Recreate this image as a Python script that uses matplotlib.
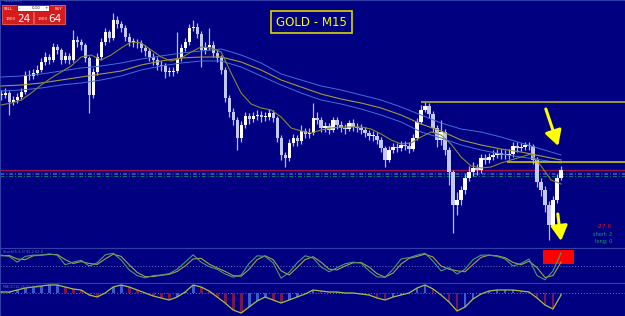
import matplotlib
matplotlib.use("Agg")
import matplotlib.pyplot as plt
from matplotlib.patches import Rectangle
import numpy as np

# ---- price candles (M15), one every bar ----
closes = np.array([
    1310.5, 1310.7, 1309.8, 1310.0, 1310.3, 1310.8, 1312.5, 1312.4, 1312.7, 1313.0,
    1313.8, 1314.3, 1314.0, 1315.3, 1315.0, 1314.0, 1314.4, 1314.0, 1316.0, 1315.8,
    1315.5, 1314.2, 1310.5, 1312.8, 1314.3, 1315.8, 1316.8, 1316.2, 1318.0, 1317.6,
    1317.2, 1316.3, 1315.8, 1315.8, 1315.7, 1315.2, 1314.9, 1314.3, 1314.0, 1313.5,
    1313.4, 1312.8, 1312.8, 1312.9, 1314.2, 1315.2, 1315.8, 1317.2, 1317.3, 1316.6,
    1315.0, 1315.3, 1315.5, 1314.7, 1314.2, 1313.0, 1310.2, 1308.8, 1308.0, 1306.2,
    1307.5, 1308.4, 1308.1, 1308.4, 1308.5, 1308.3, 1308.3, 1308.7, 1308.2, 1306.2,
    1304.5, 1304.2, 1305.7, 1306.2, 1305.9, 1306.9, 1306.6, 1306.7, 1308.2, 1308.0,
    1307.2, 1307.4, 1307.0, 1308.0, 1307.5, 1307.2, 1307.1, 1307.7, 1307.3, 1307.2,
    1307.0, 1306.7, 1306.4, 1306.4, 1306.0, 1305.2, 1304.0, 1305.0, 1305.3, 1305.2,
    1305.5, 1305.4, 1305.1, 1306.2, 1307.8, 1309.0, 1309.4, 1308.6, 1307.2, 1306.0,
    1306.8, 1305.0, 1302.8, 1299.5, 1300.0, 1301.0, 1302.2, 1302.8, 1303.2, 1303.0,
    1304.2, 1304.0, 1304.3, 1304.5, 1304.7, 1304.5, 1304.5, 1304.6, 1305.4, 1305.2,
    1305.3, 1305.5, 1305.4, 1304.0, 1301.8, 1301.0, 1299.5, 1297.5, 1300.0, 1302.2,
    1303.0])
highs = np.array([
    1311.0, 1311.2, 1310.9, 1310.4, 1310.7, 1311.2, 1312.9, 1313.0, 1313.1, 1313.5,
    1314.2, 1314.8, 1314.6, 1315.7, 1315.6, 1315.2, 1314.8, 1314.7, 1317.0, 1316.4,
    1316.1, 1315.7, 1314.4, 1313.2, 1314.7, 1316.2, 1317.2, 1317.0, 1318.7, 1318.4,
    1317.9, 1317.5, 1316.7, 1316.2, 1316.1, 1316.0, 1315.5, 1315.2, 1314.7, 1314.3,
    1313.9, 1313.7, 1313.3, 1313.3, 1316.8, 1315.6, 1316.2, 1317.6, 1318.0, 1317.7,
    1316.9, 1315.8, 1317.2, 1315.9, 1315.0, 1314.5, 1313.3, 1310.5, 1309.2, 1308.3,
    1307.9, 1308.8, 1308.7, 1308.8, 1309.0, 1308.9, 1308.8, 1309.1, 1309.0, 1308.4,
    1306.5, 1304.8, 1306.1, 1306.6, 1306.5, 1307.5, 1307.2, 1307.2, 1309.7, 1308.8,
    1308.3, 1307.8, 1307.7, 1308.3, 1308.3, 1307.9, 1307.6, 1308.0, 1308.1, 1307.7,
    1307.6, 1307.3, 1307.0, 1306.9, 1306.8, 1306.3, 1305.4, 1305.4, 1305.7, 1305.7,
    1305.9, 1305.9, 1305.8, 1306.6, 1308.2, 1309.5, 1309.8, 1309.7, 1308.9, 1307.5,
    1308.0, 1307.1, 1305.3, 1303.0, 1300.8, 1301.4, 1302.6, 1303.4, 1303.8, 1303.6,
    1304.6, 1304.6, 1304.7, 1305.0, 1305.1, 1305.1, 1305.0, 1305.1, 1305.8, 1305.8,
    1305.7, 1305.8, 1305.8, 1305.6, 1304.3, 1302.2, 1301.4, 1299.9, 1300.4, 1302.6,
    1303.4])
lows = np.array([
    1310.0, 1310.2, 1308.5, 1309.5, 1309.7, 1310.0, 1310.6, 1312.0, 1312.1, 1312.5,
    1312.8, 1313.5, 1313.6, 1313.8, 1314.6, 1313.6, 1313.7, 1313.6, 1313.8, 1315.3,
    1315.0, 1313.8, 1308.7, 1310.2, 1312.5, 1314.0, 1315.5, 1315.8, 1316.0, 1317.2,
    1316.8, 1315.9, 1315.4, 1315.3, 1315.2, 1314.8, 1314.4, 1313.9, 1313.5, 1313.0,
    1312.9, 1312.2, 1312.4, 1312.4, 1312.7, 1313.9, 1314.9, 1315.5, 1316.9, 1316.2,
    1313.3, 1314.6, 1315.0, 1314.3, 1313.8, 1312.6, 1309.8, 1308.3, 1307.5, 1305.0,
    1305.8, 1307.2, 1307.6, 1307.8, 1308.0, 1307.8, 1307.9, 1308.0, 1307.8, 1305.8,
    1304.0, 1303.3, 1303.9, 1305.4, 1305.4, 1305.6, 1306.2, 1306.2, 1306.5, 1307.6,
    1306.8, 1306.8, 1306.6, 1306.8, 1307.1, 1306.8, 1306.6, 1306.9, 1306.9, 1306.8,
    1306.6, 1306.3, 1306.0, 1305.9, 1305.6, 1304.8, 1303.3, 1303.8, 1304.7, 1304.8,
    1304.9, 1305.0, 1304.7, 1304.9, 1306.0, 1307.6, 1308.8, 1308.2, 1306.8, 1305.3,
    1305.5, 1304.5, 1301.5, 1296.7, 1298.5, 1299.5, 1300.6, 1301.9, 1302.4, 1302.5,
    1302.7, 1303.6, 1303.7, 1304.0, 1304.2, 1304.1, 1304.1, 1304.1, 1304.3, 1304.8,
    1304.9, 1305.0, 1305.0, 1303.6, 1301.3, 1300.4, 1298.8, 1296.0, 1297.2, 1299.7,
    1302.0])

# ---- moving average envelope, every 5 bars ----
band_upper = [1312.3, 1312.4, 1312.6, 1312.9, 1313.2, 1313.4, 1313.7, 1314.1, 1314.4, 1314.7,
              1314.9, 1315.1, 1314.5, 1313.7, 1312.6, 1312.0, 1311.4, 1311.0, 1310.5, 1310.0,
              1309.3, 1308.5, 1307.7, 1307.1, 1306.8, 1306.3, 1305.7, 1305.1, 1304.5]
band_mid = [1311.4, 1311.5, 1311.7, 1312.0, 1312.3, 1312.6, 1312.9, 1313.5, 1313.9, 1314.2,
            1314.3, 1314.3, 1313.8, 1313.0, 1312.0, 1311.3, 1310.6, 1310.1, 1309.7, 1309.2,
            1308.5, 1307.6, 1306.9, 1306.0, 1305.5, 1305.1, 1304.8, 1304.4, 1304.0]
band_lower = [1310.9, 1311.0, 1311.2, 1311.5, 1311.7, 1312.0, 1312.4, 1313.0, 1313.4, 1313.7,
              1313.9, 1313.9, 1313.3, 1312.4, 1311.5, 1310.7, 1310.0, 1309.6, 1309.1, 1308.5,
              1307.8, 1306.8, 1306.2, 1305.5, 1305.0, 1304.6, 1304.3, 1304.0, 1303.7]

# ---- fast moving average, every 2.5 bars ----
fast_ma = [1309.5, 1309.7, 1310.0, 1310.7, 1311.5, 1312.2, 1312.8, 1313.4, 1314.3, 1314.5,
           1314.0, 1314.5, 1315.2, 1315.8, 1315.7, 1315.0, 1314.3, 1313.9, 1314.2, 1314.8,
           1315.3, 1315.2, 1314.8, 1312.7, 1310.7, 1309.6, 1309.2, 1309.0, 1308.3, 1307.2,
           1306.9, 1306.7, 1307.0, 1307.2, 1307.3, 1307.3, 1307.3, 1307.1, 1306.6, 1306.0,
           1305.6, 1305.7, 1306.3, 1306.8, 1306.5, 1305.6, 1304.3, 1303.4, 1303.2, 1303.3,
           1303.7, 1304.0, 1304.3, 1304.6, 1303.4, 1302.0, 1301.6]

# ---- horizontal levels ----
resistance = 1309.8
resistance_from = 105
support = 1303.8
support_from = 126.5
pivot = 1303.05
dash_levels = [1302.75, 1302.6]
green_level = 1302.4

# ---- oscillators, every 2 bars ----
stoch_main = [84, 80, 62, 80, 84, 84, 88, 84, 54, 62, 68, 50, 60, 85, 90, 69, 38, 20, 13, 20,
              22, 26, 40, 62, 85, 62, 48, 40, 25, 15, 22, 58, 82, 80, 60, 12, 30, 60, 82, 75,
              47, 32, 45, 57, 62, 59, 35, 16, 15, 40, 72, 76, 84, 90, 65, 35, 45, 25, 40, 70,
              84, 84, 80, 72, 50, 58, 72, 20, 7, 35, 91]
stoch_signal = [82, 83, 72, 70, 82, 84, 86, 86, 70, 58, 64, 58, 55, 72, 87, 80, 54, 30, 17, 17,
                21, 24, 33, 50, 72, 74, 56, 44, 33, 20, 18, 40, 70, 82, 70, 35, 22, 45, 70, 79,
                62, 40, 38, 50, 60, 61, 47, 26, 15, 28, 56, 74, 80, 87, 78, 50, 40, 35, 32, 55,
                77, 84, 82, 76, 61, 54, 65, 45, 14, 20, 62]
macd = np.array([0.1, 0.1, 0.3, 0.5, 0.6, 0.7, 0.8, 0.8, 0.6, 0.4,
                 0.3, -0.2, -0.4, 0.0, 0.6, 0.8, 0.6, 0.3, 0.0, -0.3,
                 -0.5, -0.7, -0.4, 0.1, 0.8, 0.6, 0.2, -0.4, -1.0, -1.7,
                 -2.0, -1.4, -0.8, -0.4, -0.7, -1.0, -0.7, -0.4, -0.1, 0.3,
                 0.2, 0.1, 0.1, 0.0, 0.0, -0.1, -0.2, -0.5, -0.7, -0.4,
                 -0.2, 0.0, 0.5, 0.8, 0.4, -0.2, -0.9, -1.8, -1.4, -0.6,
                 -0.1, 0.2, 0.3, 0.3, 0.3, 0.2, 0.1, -0.5, -1.2, -1.6,
                 -0.2])

navy = '#000080'
H = 316.0
fig = plt.figure(figsize=(6.25, 3.16), dpi=100, facecolor=navy)


def panel(top, bottom):
    a = fig.add_axes([0, 1 - bottom / H, 1, (bottom - top) / H])
    a.set_facecolor(navy)
    a.set_xticks([])
    a.set_yticks([])
    for s in a.spines.values():
        s.set_color('#3040a8')
        s.set_linewidth(0.8)
    a.set_xlim(-0.3, 156.0)
    return a


ax = panel(0, 248)
ax1 = panel(248, 283)
ax2 = panel(283, 316)
ax.set_ylim(1295.2, 1320.0)
ax1.set_ylim(-3.1, 106.3)
ax2.set_ylim(-2.3, 1.0)

# overlay in pixel units for labels and widgets
ov = fig.add_axes([0, 0, 1, 1])
ov.set_xlim(0, 625)
ov.set_ylim(H, 0)
ov.axis('off')
ov.patch.set_alpha(0)

# candles
idx = np.arange(len(closes))
opens = np.r_[closes[0], closes[:-1]]
up = closes >= opens
ax.vlines(idx, lows, highs, color='#b4baf0', lw=0.9, zorder=2)
ax.bar(idx, np.maximum(np.abs(closes - opens), 0.12), bottom=np.minimum(opens, closes),
       width=0.8, color=np.where(up, '#ffffff', '#c4c8f0'), linewidth=0, zorder=2)

band_idx = np.arange(0, 141, 5)
fast_idx = np.arange(len(fast_ma)) * 2.5
ax.plot(band_idx, band_upper, color='#4070d8', lw=0.7, zorder=3)
ax.plot(band_idx, band_mid, color='#a09a3c', lw=0.8, zorder=3)
ax.plot(band_idx, band_lower, color='#4070d8', lw=0.7, zorder=3)
ax.plot(fast_idx, fast_ma, color='#8a8630', lw=0.8, zorder=3)

xmax = ax.get_xlim()[1]
ax.hlines(resistance, resistance_from, xmax, color='#a8a238', lw=1.3, zorder=4)
ax.hlines(support, support_from, xmax, color='#d8d400', lw=1.1, zorder=4)
ax.axhline(pivot, color='#a0104e', lw=0.9, zorder=1)
for lv in dash_levels:
    ax.axhline(lv, color='#3050b8', lw=0.7, ls=(0, (4, 2, 1, 2)), zorder=1)
ax.axhline(green_level, color='#00806a', lw=0.7, ls=(0, (4, 2, 1, 2)), zorder=1)

arrow = dict(arrowstyle='-|>,head_length=0.9,head_width=0.5', color='#ffff00',
             lw=2.2, shrinkA=0, shrinkB=0)
ax.annotate('', xy=(139.3, 1305.4), xytext=(136.2, 1309.1), arrowprops=arrow, zorder=5)
ax.annotate('', xy=(140.0, 1295.9), xytext=(139.2, 1298.6), arrowprops=arrow, zorder=5)

# stochastic panel
osc_idx = np.arange(len(stoch_main)) * 2
ax1.add_patch(Rectangle((543, 250), 31, 14, transform=ov.transData,
                        color='#ff0000', lw=0, zorder=1))
ax1.axhline(50, color='#6a78c8', lw=0.7, ls=(0, (1, 2)), zorder=2)
ax1.plot(osc_idx, stoch_signal, color='#a8a048', lw=0.8, zorder=3)
ax1.plot(osc_idx, stoch_main, color='#4a9a70', lw=0.8, zorder=3)

# macd panel
step = np.diff(macd, prepend=macd[0])
ax2.axhline(0, color='#6a78c8', lw=0.7, ls=(0, (1, 2)), zorder=1)
ax2.bar(osc_idx, macd, width=0.7, color=np.where(step >= 0, '#3a5ad0', '#781650'),
        linewidth=0, zorder=2)
ax2.plot(osc_idx, macd, color='#a8c040', lw=0.9, zorder=3)

# one-click trading widget
ov.add_patch(Rectangle((2, 5), 31, 19, fc='#d41c1c', ec='#f06060', lw=0.6))
ov.add_patch(Rectangle((34, 5), 31, 19, fc='#d41c1c', ec='#f06060', lw=0.6))
ov.add_patch(Rectangle((17, 5), 32, 6, fc='#ffffff', ec='#303070', lw=0.6))
ov.text(8, 8.5, 'SELL', color='white', fontsize=2.8, ha='center', va='center')
ov.text(59, 8.5, 'BUY', color='white', fontsize=2.8, ha='center', va='center')
ov.text(20, 8, '-', color='#202020', fontsize=3, ha='center', va='center')
ov.text(46, 8, '+', color='#202020', fontsize=3, ha='center', va='center')
ov.text(36, 8, '0.10', color='#202020', fontsize=2.8, ha='center', va='center')
ov.text(11, 19.5, '1303', color='white', fontsize=2.8, ha='center', va='center')
ov.text(23.5, 19, '24', color='white', fontsize=7.5, ha='center', va='center')
ov.text(43, 19.5, '1303', color='white', fontsize=2.8, ha='center', va='center')
ov.text(55, 19, '64', color='white', fontsize=7.5, ha='center', va='center')
ov.text(4, 1.5, 'GOLD,M15', color='#6070b8', fontsize=2.5, ha='left', va='center')

ov.text(311.5, 22, 'GOLD - M15', color='#ffff00', fontsize=8.5, ha='center', va='center',
        bbox=dict(boxstyle='square,pad=0.4', fc='none', ec='#d8d800', lw=1.2))

ov.text(612, 227, '-27.6', color='#e01818', fontsize=4.2, ha='right', va='center')
ov.text(612, 235, 'short: 2', color='#20a070', fontsize=3.6, ha='right', va='center')
ov.text(612, 242, 'long: 0', color='#20a070', fontsize=3.6, ha='right', va='center')

ov.text(3, 252, 'Stoch(5,3,3) 91.2 62.0', color='#6070b8', fontsize=2.5, ha='left', va='center')
ov.text(3, 287, 'MACD(12,26,9) -0.20', color='#6070b8', fontsize=2.5, ha='left', va='center')

fig.savefig('out.png', dpi=100, facecolor=navy)
